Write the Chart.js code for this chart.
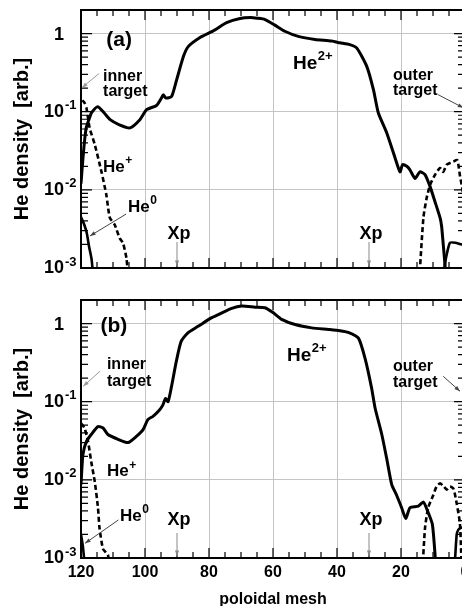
<!DOCTYPE html>
<html>
<head>
<meta charset="utf-8">
<script src="https://cdn.jsdelivr.net/npm/chart.js@4.4.0/dist/chart.umd.min.js"></script>
<style>
  html, body { margin: 0; padding: 0; background: #fff; overflow: hidden; }
  #wrap { position: relative; width: 470px; height: 608px; }
  canvas { position: absolute; left: 0; }
  #cA { top: 0; }
  #cB { top: 290px; }
</style>
</head>
<body>
<div id="wrap">
  <canvas id="cA" width="470" height="280"></canvas>
  <canvas id="cB" width="470" height="318"></canvas>
</div>
<script>
// axis tick values / labels
const xMajor = [0, 20, 40, 60, 80, 100, 120];
const yDecades = [0.001, 0.01, 0.1, 1];
const yTickBase = ['10', '10', '10', '1'];
const yTickExp = ['-3', '-2', '-1', ''];

// panel (a) -- He density vs poloidal mesh (null = gap)
const aHe2X = [120, 119.4, 118.8, 118.3, 117.3, 116.7, 114.8, 112.8, 110.9, 108, 104.7, 101.6, 99.5, 96.4, 94.8, 94.3, 93.5, 91.7, 90.1, 88, 86.5, 82.8, 78.7, 74.5, 70.3, 67, 65, 62.5, 59.4, 56.3, 52.1, 46.9, 41.7, 39.1, 36, 33.8, 30.7, 28.6, 27.1, 24.5, 21.9, 20.3, 19.5, 18.2, 17.2, 15.6, 14.1, 12.5, 10.9, 9.4, 7.8, 7.3, 6.8, 6.25, 5.9];
const aHe2Y = [0.012, 0.025, 0.046, 0.064, 0.084, 0.097, 0.116, 0.097, 0.079, 0.068, 0.062, 0.079, 0.106, 0.12, 0.151, 0.165, 0.15, 0.156, 0.257, 0.507, 0.68, 0.89, 1.08, 1.38, 1.56, 1.6, 1.57, 1.51, 1.28, 1.07, 0.92, 0.84, 0.80, 0.76, 0.72, 0.65, 0.38, 0.19, 0.097, 0.054, 0.026, 0.017, 0.021, 0.020, 0.018, 0.014, 0.017, 0.0157, 0.011, 0.0071, 0.0044, 0.0034, 0.002, 0.0011, 0.0007];
const aHe1X = [119.6, 118.9, 118.3, 117.3, 115.7, 113.6, 112.1, 111.0, 109.5, 107.9, 106.9, 105.8, 105.2, 60, 14.3, 13.0, 12.0, 10.9, 9.4, 7.8, 6.8, 5.7, 3.6, 2.4, 1.56, 0.94, 0];
const aHe1Y = [0.14, 0.13, 0.112, 0.062, 0.038, 0.017, 0.0087, 0.0044, 0.0036, 0.0024, 0.0021, 0.00134, 0.0007, null, 0.0007, 0.0044, 0.0078, 0.0116, 0.0155, 0.019, 0.017, 0.021, 0.023, 0.024, 0.015, 0.011, 0.006];
const aHe0X = [120, 119, 118.2, 117.5, 116.7, 116.2, 60, 7.0, 6.3, 5.7, 4.7, 3.0, 1.0, 0];
const aHe0Y = [0.0045, 0.0036, 0.0028, 0.0019, 0.0013, 0.0008, null, 0.0007, 0.0011, 0.0015, 0.0021, 0.0021, 0.002, 0.002];

// panel (b)
const bHe2X = [120, 119.4, 118.3, 116.8, 114.7, 113.1, 111.6, 108.4, 105.3, 102.7, 100.6, 99.1, 97.5, 95.4, 94.4, 93.6, 92.8, 91.8, 90.2, 88.7, 86.6, 83.4, 79.3, 77.1, 72.9, 69.8, 65.6, 62.5, 59.9, 57.3, 53.1, 47.9, 42.7, 39.1, 36.5, 33.3, 31.25, 29.2, 28.1, 26.0, 24.5, 22.9, 21.4, 19.8, 18.5, 17.2, 14.6, 13.0, 11.8, 10.2, 9.2, 8.9];
const bHe2Y = [0.0087, 0.021, 0.031, 0.038, 0.048, 0.046, 0.038, 0.033, 0.030, 0.036, 0.044, 0.059, 0.065, 0.079, 0.091, 0.11, 0.10, 0.15, 0.33, 0.59, 0.76, 0.92, 1.18, 1.30, 1.56, 1.67, 1.62, 1.59, 1.37, 1.13, 0.97, 0.88, 0.84, 0.81, 0.77, 0.65, 0.36, 0.15, 0.083, 0.038, 0.019, 0.0087, 0.0064, 0.0044, 0.0032, 0.0044, 0.0046, 0.0052, 0.0041, 0.0027, 0.0009, 0.0006];
const bHe1X = [120, 118.9, 117.8, 116.8, 115.7, 114.7, 114.2, 113.1, 111.6, 111.0, 60, 13.3, 12.5, 11.5, 9.9, 8.9, 7.8, 6.6, 5.7, 4.7, 3.6, 2.6, 1.6, 1.2, 1.0];
const bHe1Y = [0.053, 0.046, 0.031, 0.017, 0.0095, 0.0044, 0.0024, 0.0013, 0.0011, 0.0007, null, 0.0007, 0.0024, 0.0044, 0.0064, 0.0082, 0.009, 0.0082, 0.0075, 0.0082, 0.0077, 0.005, 0.0028, 0.0012, 0.0007];
const bHe0X = [120, 119.4, 118.7, 60, 3.3, 2.6, 2.1, 1.6, 0.5, 0];
const bHe0Y = [0.002, 0.0014, 0.0007, null, 0.0007, 0.002, 0.0023, 0.0024, 0.0025, 0.0025];

// text labels (data coords) and arrows
const aNotes = [
  { t: '(a)', x: 108.1, y: 0.81, size: 21, align: 'center' },
  { t: 'inner', x: 113.1, y: 0.28, size: 16 },
  { t: 'target', x: 113.1, y: 0.18, size: 16 },
  { t: 'He', s: '+', x: 113.1, y: 0.0197, size: 17 },
  { t: 'He', s: '0', x: 105.3, y: 0.0060, size: 17 },
  { t: 'Xp', x: 89.4, y: 0.00273, size: 18, align: 'center' },
  { t: 'Xp', x: 29.4, y: 0.00273, size: 18, align: 'center' },
  { t: 'He', s: '2+', x: 53.75, y: 0.41, size: 19 },
  { t: 'outer', x: 22.5, y: 0.29, size: 16 },
  { t: 'target', x: 22.5, y: 0.186, size: 16 }
];
const aArrows = [
  { x0: 114.4, y0: 0.307, x1: 119.7, y1: 0.203, c: '#9a9a9a' },
  { x0: 105.9, y0: 0.0049, x1: 117.2, y1: 0.00257, c: '#444' },
  { x0: 90, y0: 0.00215, x1: 90, y1: 0.00106, c: '#888' },
  { x0: 30, y0: 0.00215, x1: 30, y1: 0.00106, c: '#888' },
  { x0: 8.4, y0: 0.165, x1: 0.5, y1: 0.112, c: '#444' }
];
const bNotes = [
  { t: '(b)', x: 109.7, y: 0.92, size: 21, align: 'center' },
  { t: 'inner', x: 111.9, y: 0.30, size: 16 },
  { t: 'target', x: 111.9, y: 0.18, size: 16 },
  { t: 'He', s: '+', x: 111.9, y: 0.0127, size: 17 },
  { t: 'He', s: '0', x: 107.8, y: 0.00346, size: 17 },
  { t: 'Xp', x: 89.4, y: 0.00307, size: 18, align: 'center' },
  { t: 'Xp', x: 29.4, y: 0.00307, size: 18, align: 'center' },
  { t: 'He', s: '2+', x: 55.6, y: 0.39, size: 19 },
  { t: 'outer', x: 22.5, y: 0.28, size: 16 },
  { t: 'target', x: 22.5, y: 0.175, size: 16 }
];
const bArrows = [
  { x0: 114.1, y0: 0.245, x1: 119.3, y1: 0.157, c: '#9a9a9a' },
  { x0: 108.3, y0: 0.00307, x1: 118.75, y1: 0.00154, c: '#444' },
  { x0: 90, y0: 0.00209, x1: 90, y1: 0.00106, c: '#888' },
  { x0: 30, y0: 0.00209, x1: 30, y1: 0.00106, c: '#888' },
  { x0: 6.8, y0: 0.211, x1: 1.56, y1: 0.136, c: '#444' }
];

const FONT = '"Liberation Sans", Arial, Helvetica, sans-serif';
const GRID = '#c4c4c4';
Chart.defaults.font.family = FONT;
Chart.defaults.color = '#000';

const zip = (xs, ys) => xs.map((x, i) => ({ x: x, y: ys[i] }));
const isDecade = v => Math.abs(Math.log10(v) - Math.round(Math.log10(v))) < 1e-6;

function arrow(ctx, x0, y0, x1, y1, color) {
  const ang = Math.atan2(y1 - y0, x1 - x0), h = 6;
  ctx.strokeStyle = color; ctx.fillStyle = color; ctx.lineWidth = 1;
  ctx.beginPath(); ctx.moveTo(x0, y0); ctx.lineTo(x1, y1); ctx.stroke();
  ctx.beginPath();
  ctx.moveTo(x1, y1);
  ctx.lineTo(x1 - h * Math.cos(ang - 0.35), y1 - h * Math.sin(ang - 0.35));
  ctx.lineTo(x1 - h * Math.cos(ang + 0.35), y1 - h * Math.sin(ang + 0.35));
  ctx.closePath(); ctx.fill();
}

// base text + superscript, vertically centred on y
function supText(ctx, x, y, base, sup, size, align) {
  ctx.textBaseline = 'middle';
  ctx.font = 'bold ' + size + 'px ' + FONT;
  const wb = ctx.measureText(base).width;
  const ss = Math.round(size * 0.68);
  ctx.font = 'bold ' + ss + 'px ' + FONT;
  const ws = sup ? ctx.measureText(sup).width : 0;
  let left = x;
  if (align === 'center') left = x - (wb + ws) / 2;
  ctx.textAlign = 'left';
  ctx.font = 'bold ' + size + 'px ' + FONT;
  ctx.fillText(base, left, y);
  if (sup) {
    ctx.font = 'bold ' + ss + 'px ' + FONT;
    ctx.fillText(sup, left + wb + 0.5, y - size * 0.38);
  }
}

const decor = {
  id: 'decor',
  afterDraw(chart, args, opts) {
    const { ctx, chartArea: ca } = chart;
    const xs = chart.scales.x, ys = chart.scales.y;
    ctx.save();
    ctx.strokeStyle = '#000';
    ctx.lineWidth = 1.2;
    ctx.beginPath();
    xs.ticks.forEach(t => {
      const px = xs.getPixelForValue(t.value);
      const len = t.value % 20 === 0 ? 10 : 6;
      ctx.moveTo(px, ca.top); ctx.lineTo(px, ca.top + len);
      ctx.moveTo(px, ca.bottom); ctx.lineTo(px, ca.bottom - len);
    });
    ys.ticks.forEach(t => {
      const py = ys.getPixelForValue(t.value);
      const len = isDecade(t.value) ? 11 : 7;
      ctx.moveTo(ca.left, py); ctx.lineTo(ca.left + len, py);
      ctx.moveTo(ca.right, py); ctx.lineTo(ca.right - len, py);
    });
    ctx.stroke();
    ctx.lineWidth = 2;
    ctx.strokeRect(ca.left, ca.top, ca.right - ca.left, ca.bottom - ca.top);

    // y tick labels: base right-aligned, exponent hanging right
    ctx.fillStyle = '#000';
    yDecades.forEach((v, i) => {
      const py = ys.getPixelForValue(v);
      const bx = 64;
      ctx.textBaseline = 'middle';
      ctx.textAlign = 'right';
      ctx.font = 'bold 18px ' + FONT;
      ctx.fillText(yTickBase[i], bx, py + (i === 3 ? 2 : 0));
      if (yTickExp[i]) {
        ctx.textAlign = 'left';
        ctx.font = 'bold 13px ' + FONT;
        ctx.fillText(yTickExp[i], bx + 1, py - 6);
      }
    });

    opts.arrows.forEach(a => arrow(ctx, xs.getPixelForValue(a.x0), ys.getPixelForValue(a.y0),
      xs.getPixelForValue(a.x1), ys.getPixelForValue(a.y1), a.c));
    ctx.fillStyle = '#000';
    opts.notes.forEach(n => supText(ctx, xs.getPixelForValue(n.x), ys.getPixelForValue(n.y),
      n.t, n.s, n.size, n.align));
    ctx.restore();
  }
};

function makeChart(id, he2x, he2y, he1x, he1y, he0x, he0y, notes, arrows, showX) {
  const line = { pointRadius: 0, borderColor: '#000', fill: false, tension: 0.2, spanGaps: false };
  return new Chart(document.getElementById(id), {
    type: 'line',
    data: {
      datasets: [
        Object.assign({ label: 'He2+', data: zip(he2x, he2y), borderWidth: 3 }, line),
        Object.assign({ label: 'He+', data: zip(he1x, he1y), borderWidth: 2.6, borderDash: [5, 3] }, line),
        Object.assign({ label: 'He0', data: zip(he0x, he0y), borderWidth: 2.6 }, line)
      ]
    },
    options: {
      responsive: false,
      animation: false,
      events: [],
      layout: { padding: { top: 10, right: 5, left: 0, bottom: 0 } },
      plugins: {
        legend: { display: false },
        tooltip: { enabled: false },
        decor: { notes: notes, arrows: arrows }
      },
      scales: {
        x: {
          type: 'linear', reverse: true, min: 0, max: 120,
          afterBuildTicks: s => {
            const t = [];
            for (let v = 0; v <= 120; v += 5) t.push({ value: v });
            s.ticks = t;
          },
          afterFit: s => { s.height = showX ? 50 : 12; },
          border: { display: false },
          grid: {
            drawTicks: false,
            color: c => (c.tick && xMajor.includes(c.tick.value)) ? GRID : 'rgba(0,0,0,0)'
          },
          ticks: {
            display: showX, autoSkip: false, maxRotation: 0, padding: 5,
            font: { size: 16, weight: 'bold' },
            callback: v => xMajor.includes(v) ? String(v) : ''
          },
          title: {
            display: showX, text: 'poloidal mesh', padding: 0,
            font: { size: 16, weight: 'bold', lineHeight: 1 }
          }
        },
        y: {
          type: 'logarithmic', min: 0.001, max: 2,
          afterBuildTicks: s => {
            const t = [];
            yDecades.forEach(d => { for (let k = 1; k <= 9; k++) if (d * k < 2) t.push({ value: d * k }); });
            s.ticks = t;
          },
          afterFit: s => { s.width = 81; },
          border: { display: false },
          grid: {
            drawTicks: false,
            color: c => (c.tick && isDecade(c.tick.value)) ? GRID : 'rgba(0,0,0,0)'
          },
          ticks: { display: false },
          title: {
            display: true, text: 'He density  [arb.]', padding: { top: 10 },
            font: { size: 20, weight: 'bold', lineHeight: 1.2 }
          }
        }
      }
    },
    plugins: [decor]
  });
}

makeChart('cA', aHe2X, aHe2Y, aHe1X, aHe1Y, aHe0X, aHe0Y, aNotes, aArrows, false);
makeChart('cB', bHe2X, bHe2Y, bHe1X, bHe1Y, bHe0X, bHe0Y, bNotes, bArrows, true);
</script>
</body>
</html>
